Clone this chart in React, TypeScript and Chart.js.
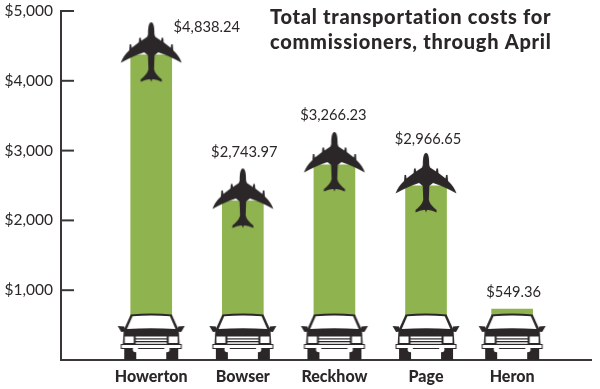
import React, { useEffect, useRef } from "react";
import { Chart, registerables } from "chart.js";

Chart.register(...registerables);

const commissioners = ["Howerton", "Bowser", "Reckhow", "Page", "Heron"];
const slots = [0.985, 1.985, 2.985, 3.985, 4.925];
const totals = [4838.24, 2743.97, 3266.23, 2966.65, 549.36];
const barTops = [4373, 2280, 2796, 2495, 731];
const barBase = 500;
const planeValues = [4838.24, 2743.97, 3266.23, 2966.65, null];
const carValues = [0, 0, 0, 0, 0];
const yTicks = [0, 1000, 2000, 3000, 4000, 5000];
const titleLines = ["Total transportation costs for", "commissioners, through April"];

const labelOffsets = [
  [55.5, 4.5],
  [1.5, -16],
  [-1, -17],
  [2, -14],
  [1.5, -29.5],
];

const INK = "#2b2728";
const GREEN = "#8fb34f";
const AXIS = "#3a3637";

function planeSprite(): HTMLCanvasElement {
  const c = document.createElement("canvas");
  c.width = 70;
  c.height = 130;
  const g = c.getContext("2d")!;
  g.translate(35, 65);
  g.fillStyle = INK;
  const half = (s: number) => {
    g.beginPath();
    g.moveTo(0, 0);
    g.bezierCurveTo(s * 2.6, 0.5, s * 3.2, 5, s * 3.2, 12);
    g.lineTo(s * 4, 14.5);
    g.lineTo(s * 10, 18.5);
    g.lineTo(s * 10.4, 15.5);
    g.lineTo(s * 12, 15.5);
    g.lineTo(s * 12.4, 20);
    g.lineTo(s * 19.5, 25.5);
    g.lineTo(s * 20, 22);
    g.lineTo(s * 21.5, 22);
    g.lineTo(s * 22, 28);
    g.quadraticCurveTo(s * 28, 33.5, s * 30.5, 40.5);
    g.quadraticCurveTo(s * 18, 33.5, s * 7, 30);
    g.lineTo(s * 3.3, 33);
    g.lineTo(s * 2.8, 47);
    g.quadraticCurveTo(s * 4, 52, s * 10.5, 57);
    g.lineTo(s * 10.5, 59.5);
    g.quadraticCurveTo(s * 5, 56.5, s * 1, 57);
    g.lineTo(0, 59.5);
    g.closePath();
    g.fill();
  };
  half(1);
  half(-1);
  return c;
}

function carSprite(): HTMLCanvasElement {
  const c = document.createElement("canvas");
  c.width = 74;
  c.height = 96;
  const g = c.getContext("2d")!;
  g.translate(37, 48);
  const rect = (x: number, y: number, w: number, h: number, fill: string) => {
    g.fillStyle = fill;
    g.fillRect(x, y, w, h);
  };
  const poly = (pts: number[][], fill: string) => {
    g.fillStyle = fill;
    g.beginPath();
    pts.forEach(([x, y], i) => (i ? g.lineTo(x, y) : g.moveTo(x, y)));
    g.closePath();
    g.fill();
  };
  rect(-27, -13, 12, 13, INK);
  rect(15, -13, 12, 13, INK);
  poly([[-33.5, -34], [-27, -33.5], [-26, -28.5], [-30, -28]], INK);
  poly([[33.5, -34], [27, -33.5], [26, -28.5], [30, -28]], INK);
  g.fillStyle = INK;
  g.beginPath();
  g.moveTo(-20.5, -45.5);
  g.quadraticCurveTo(0, -47.5, 20.5, -45.5);
  g.lineTo(27.5, -30);
  g.lineTo(28.5, -14);
  g.lineTo(-28.5, -14);
  g.lineTo(-27.5, -30);
  g.closePath();
  g.fill();
  g.fillStyle = "#ffffff";
  g.beginPath();
  g.moveTo(-18.7, -43.8);
  g.quadraticCurveTo(0, -45.2, 18.7, -43.8);
  g.lineTo(24.3, -31);
  g.quadraticCurveTo(0, -32.5, -24.3, -31);
  g.closePath();
  g.fill();
  rect(-26.5, -23.5, 9, 6.5, "#ffffff");
  rect(17.5, -23.5, 9, 6.5, "#ffffff");
  rect(-15.5, -23.5, 31, 1.8, "#ffffff");
  rect(-15.5, -20.5, 31, 1.5, "#ffffff");
  rect(-15.5, -17.7, 31, 1.5, "#ffffff");
  rect(-30.5, -16, 61, 5, INK);
  rect(-29.5, -15, 59, 3, "#ffffff");
  g.fillStyle = "#ffffff";
  for (const x of [-15.7, 15.7]) {
    g.beginPath();
    g.arc(x, -10.5, 2.7, 0, Math.PI * 2);
    g.fill();
  }
  return c;
}

const overlay = {
  id: "overlay",
  afterDraw(chart: any) {
    const { ctx, scales } = chart;
    const { x, y } = scales;
    ctx.save();
    ctx.strokeStyle = AXIS;
    ctx.lineWidth = 2;
    yTicks.forEach((t) => {
      if (t === 0) return;
      const py = y.getPixelForValue(t);
      ctx.beginPath();
      ctx.moveTo(x.left, py);
      ctx.lineTo(x.left + 13, py);
      ctx.stroke();
    });
    ctx.fillStyle = INK;
    ctx.textAlign = "center";
    ctx.textBaseline = "middle";
    ctx.font = "14.7px Lato";
    totals.forEach((v, i) => {
      const [dx, dy] = labelOffsets[i];
      const text = "$" + v.toLocaleString("en-US", { minimumFractionDigits: 2 });
      ctx.fillText(text, x.getPixelForValue(slots[i]) + dx, y.getPixelForValue(v) + dy);
    });
    ctx.textAlign = "left";
    ctx.font = "900 20px Lato";
    (ctx as any).letterSpacing = "0.72px";
    ctx.fillText(titleLines[0], 270, 18);
    ctx.fillText(titleLines[1], 270, 43);
    ctx.restore();
  },
};

export default function App() {
  const ref = useRef<HTMLCanvasElement>(null);
  useEffect(() => {
    const plane = planeSprite();
    const car = carSprite();
    const chart = new Chart(ref.current!, {
      type: "bar",
      data: {
        labels: commissioners,
        datasets: [
          {
            type: "bar",
            label: "Cost bar",
            data: slots.map((s, i) => ({ x: s, y: barTops[i] })),
            base: barBase,
            backgroundColor: GREEN,
            barThickness: 41,
            order: 3,
          },
          {
            type: "line",
            label: "Plane",
            data: slots.map((s, i) => ({ x: s, y: planeValues[i] })),
            showLine: false,
            pointStyle: plane,
            clip: false,
            order: 2,
          },
          {
            type: "line",
            label: "Car",
            data: slots.map((s, i) => ({ x: s, y: carValues[i] })),
            showLine: false,
            pointStyle: car,
            clip: false,
            order: 1,
          },
        ] as any,
      },
      options: {
        animation: false,
        responsive: false,
        events: [],
        layout: { padding: { top: 11, right: 9, left: 0, bottom: 0 } },
        plugins: { legend: { display: false }, tooltip: { enabled: false } },
        scales: {
          x: {
            type: "linear",
            offset: false,
            min: 0,
            max: 530 / 91.6,
            afterBuildTicks: (s: any) => {
              s.ticks = slots.map((value) => ({ value }));
            },
            afterFit: (s: any) => {
              s.height = 29;
              s.paddingLeft = 0;
              s.paddingRight = 0;
            },
            grid: { drawOnChartArea: false, drawTicks: false },
            border: { color: AXIS, width: 2 },
            ticks: {
              autoSkip: false,
              maxRotation: 0,
              padding: 7,
              color: INK,
              font: { family: "Lato", size: 16, weight: "900" },
              callback: (v: any) => commissioners[slots.indexOf(v)],
            },
          },
          y: {
            min: 0,
            max: 5000,
            afterBuildTicks: (s: any) => {
              s.ticks = yTicks.map((value) => ({ value }));
            },
            afterFit: (s: any) => {
              s.width = 61;
              s.paddingTop = 0;
              s.paddingBottom = 0;
            },
            grid: { drawOnChartArea: false, drawTicks: false },
            border: { color: AXIS, width: 2 },
            ticks: {
              padding: 8,
              color: INK,
              font: { family: "Lato", size: 15.5 },
              callback: (v: any) => (v === 0 ? "" : "$" + Number(v).toLocaleString("en-US")),
            },
          },
        },
      } as any,
      plugins: [overlay],
    });
    return () => chart.destroy();
  }, []);
  return (
    <div style={{ position: "absolute", left: 0, top: 0, width: 600, height: 389, background: "#fff" }}>
      <canvas ref={ref} width={600} height={389} style={{ display: "block" }} />
    </div>
  );
}
